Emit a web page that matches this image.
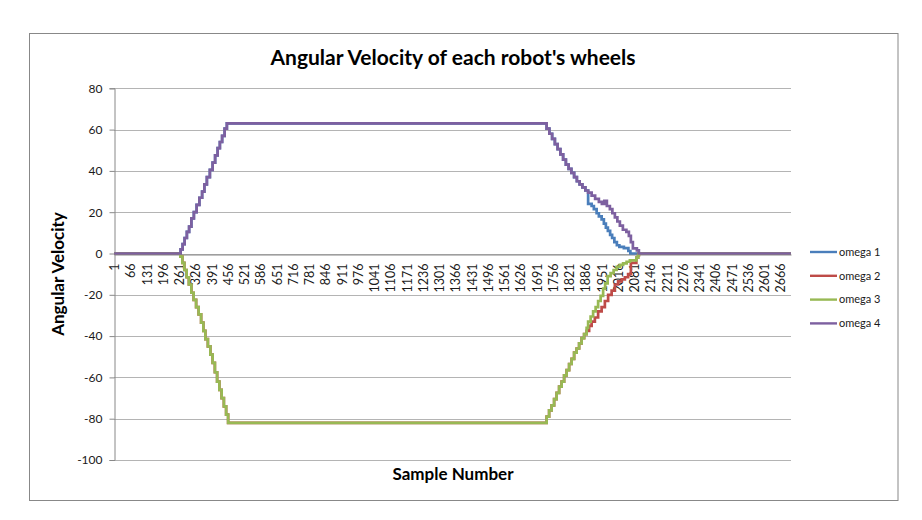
<!DOCTYPE html>
<html lang="en">
	<head>
		<meta charset="UTF-8" />
		<title>Angular Velocity of each robot's wheels</title>
		<script src="https://d3js.org/d3.v7.min.js"></script>
	</head>
	<style>
		body {
			margin: 0;
			background: #ffffff;
			font-family: "Lato", "Open Sans", sans-serif;
		}
		.grid line {
			stroke: #b4b4b4;
			stroke-width: 1.2;
		}
		.y-axis text,
		.x-axis text,
		.legend text {
			fill: #1a1a1a;
		}
	</style>
	<body>
		<svg id="chart"></svg>
		<script>
			const width = 922;
			const height = 520;

			// number of samples on the category axis
			const sampleCount = 2708;

			const seriesNames = ["omega 1", "omega 2", "omega 3", "omega 4"];
			const seriesColors = ["#4a7ebb", "#be4b48", "#98b954", "#7d60a0"];

			const yTicks = [80, 60, 40, 20, 0, -20, -40, -60, -80, -100];
			const xTickLabels = [
				1, 66, 131, 196, 261, 326, 391, 456, 521, 586, 651, 716, 781, 846,
				911, 976, 1041, 1106, 1171, 1236, 1301, 1366, 1431, 1496, 1561, 1626,
				1691, 1756, 1821, 1886, 1951, 2016, 2081, 2146, 2211, 2276, 2341,
				2406, 2471, 2536, 2601, 2666,
			];

			// [sample, value] where the value changes (held until the next entry)
			const omega1 = [
				[1, 0], [267, 2], [275, 4.5], [283, 7.5], [292, 10.5], [301, 13],
				[310, 17], [320, 20], [331, 23.5], [342, 27], [353, 30], [362, 33.5],
				[372, 37], [384, 40.5], [395, 44], [405, 47.5], [415, 51], [424, 54],
				[433, 57], [443, 60.5], [452, 63],
				[1731, 60.5], [1742, 58], [1753, 55.5], [1764, 53], [1775, 50.5],
				[1786, 48], [1797, 45.5], [1808, 43], [1819, 41], [1830, 39],
				[1841, 37], [1852, 35], [1863, 33.5], [1874, 32], [1886, 30.5],
				[1897, 24], [1911, 23], [1920, 21.5], [1931, 19.5], [1940, 18],
				[1951, 16.5], [1960, 14.5], [1968, 12.5], [1976, 11], [1985, 9],
				[1993, 7.5], [2002, 5.5], [2012, 4], [2022, 3.2], [2040, 2.6],
				[2058, 1.2], [2066, 0], [2708, 0],
			];
			const omega2 = [
				[1, 0], [266, -1.5], [274, -4.5], [282, -8], [291, -11.5], [300, -15],
				[310, -19], [319, -22.5], [329, -26], [339, -29.5], [349, -33.5],
				[358, -37.5], [366, -41.5], [376, -45], [386, -49], [395, -53],
				[404, -57.5], [413, -62], [422, -66], [431, -70], [440, -74],
				[449, -78], [457, -82],
				[1731, -79], [1741, -76], [1751, -73.5], [1761, -70.5], [1771, -67.5],
				[1781, -64.5], [1791, -62], [1801, -59], [1811, -56.5], [1821, -53.5],
				[1831, -51], [1841, -48], [1851, -46], [1861, -43.5], [1871, -41],
				[1881, -39], [1891, -37.5], [1901, -35], [1911, -33], [1924, -31],
				[1937, -28], [1951, -26], [1964, -23], [1977, -20], [1991, -18],
				[2004, -15], [2017, -13.5], [2031, -12.5], [2044, -11.5], [2057, -10],
				[2068, -4.5], [2090, -2], [2097, -0.8], [2100, 0], [2708, 0],
			];
			const omega3 = [
				[1, 0], [266, -1.5], [274, -4.5], [282, -8], [291, -11.5], [300, -15],
				[310, -19], [319, -22.5], [329, -26], [339, -29.5], [349, -33.5],
				[358, -37.5], [366, -41.5], [376, -45], [386, -49], [395, -53],
				[404, -57.5], [413, -62], [422, -66], [431, -70], [440, -74],
				[449, -78], [457, -82],
				[1731, -79], [1741, -76], [1751, -73.5], [1761, -70.5], [1771, -67.5],
				[1781, -64.5], [1791, -62], [1801, -59], [1811, -56.5], [1821, -53.5],
				[1831, -51], [1841, -48], [1851, -46], [1861, -43.5], [1871, -41],
				[1881, -39], [1891, -36], [1897, -33], [1907, -30.5], [1917, -28],
				[1927, -26], [1937, -23], [1947, -20.5], [1957, -17], [1965, -14.5],
				[1975, -11], [1987, -9.5], [1999, -8], [2011, -6.5], [2024, -5.5],
				[2037, -4.8], [2051, -4], [2064, -3.3], [2090, -2], [2097, -0.8],
				[2100, 0], [2708, 0],
			];
			const omega4 = [
				[1, 0], [267, 2], [275, 4.5], [283, 7.5], [292, 10.5], [301, 13],
				[310, 17], [320, 20], [331, 23.5], [342, 27], [353, 30], [362, 33.5],
				[372, 37], [384, 40.5], [395, 44], [405, 47.5], [415, 51], [424, 54],
				[433, 57], [443, 60.5], [452, 63],
				[1731, 60.5], [1742, 58], [1753, 55.5], [1764, 53], [1775, 50.5],
				[1786, 48], [1797, 45.5], [1808, 43], [1819, 41], [1830, 39],
				[1841, 37], [1852, 35], [1863, 33.5], [1874, 32], [1886, 30.5],
				[1897, 29.5], [1911, 28], [1925, 26.5], [1940, 25], [1952, 24],
				[1962, 25.5], [1972, 23], [1984, 21.5], [1994, 19.5], [2004, 17.5],
				[2014, 15.5], [2024, 13.5], [2036, 11.5], [2050, 10.5], [2060, 8.5],
				[2068, 5.5], [2076, 2.5], [2092, 1.5], [2100, 0], [2708, 0],
			];

			const allSeries = [omega1, omega2, omega3, omega4];

			const plot = { left: 114, right: 791, top: 88.3, bottom: 460 };

			const svg = d3
				.select("#chart")
				.attr("width", width)
				.attr("height", height);

			// chart border
			svg
				.append("rect")
				.attr("x", 29.5)
				.attr("y", 33.5)
				.attr("width", 868.5)
				.attr("height", 467)
				.attr("fill", "#ffffff")
				.attr("stroke", "#888888")
				.attr("stroke-width", 1);

			const x = d3
				.scaleLinear()
				.domain([0.5, sampleCount + 0.5])
				.range([plot.left, plot.right]);

			const y = d3
				.scaleLinear()
				.domain([-100, 80])
				.range([plot.bottom, plot.top]);

			// horizontal gridlines
			svg
				.append("g")
				.attr("class", "grid")
				.selectAll("line")
				.data(yTicks)
				.join("line")
				.attr("x1", plot.left)
				.attr("x2", plot.right)
				.attr("y1", (d) => Math.round(y(d)) + 0.5)
				.attr("y2", (d) => Math.round(y(d)) + 0.5);

			// value axis (plain hyphen for negatives, like the original)
			const yAxis = svg
				.append("g")
				.attr("class", "y-axis")
				.attr("transform", `translate(${plot.left + 0.5},0)`)
				.call(
					d3
						.axisLeft(y)
						.tickValues(yTicks)
						.tickSize(5)
						.tickPadding(7)
						.tickFormat((d) => String(d))
				);
			yAxis.select(".domain").attr("stroke", "#888888");
			yAxis.selectAll(".tick line").attr("stroke", "#888888");
			yAxis
				.selectAll("text")
				.attr("font-family", "Lato")
				.attr("font-size", "12px");

			// category axis, crossing at zero
			const xAxis = svg
				.append("g")
				.attr("class", "x-axis")
				.attr("transform", `translate(0,${Math.round(y(0)) + 0.5})`)
				.call(
					d3
						.axisBottom(x)
						.tickValues(xTickLabels)
						.tickSize(0)
						.tickFormat((d) => String(d))
				);
			xAxis.select(".domain").attr("stroke", "#888888");
			xAxis
				.selectAll("text")
				.attr("font-family", "Lato")
				.attr("font-size", "12.5px")
				.attr("text-anchor", "end")
				.attr("transform", "rotate(-90)")
				.attr("x", -9)
				.attr("y", 0)
				.attr("dy", "0.35em");

			// the series, drawn in order so omega 4 ends on top
			const line = d3
				.line()
				.x((d) => x(d[0]))
				.y((d) => y(d[1]))
				.curve(d3.curveStepAfter);

			svg
				.append("g")
				.selectAll("path")
				.data(allSeries)
				.join("path")
				.attr("d", line)
				.attr("fill", "none")
				.attr("stroke", (d, i) => seriesColors[i])
				.attr("stroke-width", 2.7)
				.attr("stroke-linejoin", "miter");

			// titles
			svg
				.append("text")
				.attr("x", 453)
				.attr("y", 65)
				.attr("text-anchor", "middle")
				.attr("font-family", "Lato")
				.attr("font-weight", "bold")
				.attr("font-size", "21px")
				.text("Angular Velocity of each robot's wheels");

			svg
				.append("text")
				.attr("x", 453)
				.attr("y", 480)
				.attr("text-anchor", "middle")
				.attr("font-family", "Lato")
				.attr("font-weight", "bold")
				.attr("font-size", "17px")
				.text("Sample Number");

			svg
				.append("text")
				.attr("transform", "translate(64,274) rotate(-90)")
				.attr("text-anchor", "middle")
				.attr("font-family", "Lato")
				.attr("font-weight", "bold")
				.attr("font-size", "17px")
				.text("Angular Velocity");

			// legend
			const legend = svg
				.append("g")
				.attr("class", "legend")
				.selectAll("g")
				.data(seriesNames)
				.join("g")
				.attr("transform", (d, i) => `translate(810,${252 + i * 23.8})`);

			legend
				.append("line")
				.attr("x1", 0)
				.attr("x2", 27)
				.attr("stroke", (d, i) => seriesColors[i])
				.attr("stroke-width", 2.4);

			legend
				.append("text")
				.attr("x", 29)
				.attr("dy", "0.35em")
				.attr("font-family", "Lato")
				.attr("font-size", "11px")
				.text((d) => d);
		</script>
	</body>
</html>
